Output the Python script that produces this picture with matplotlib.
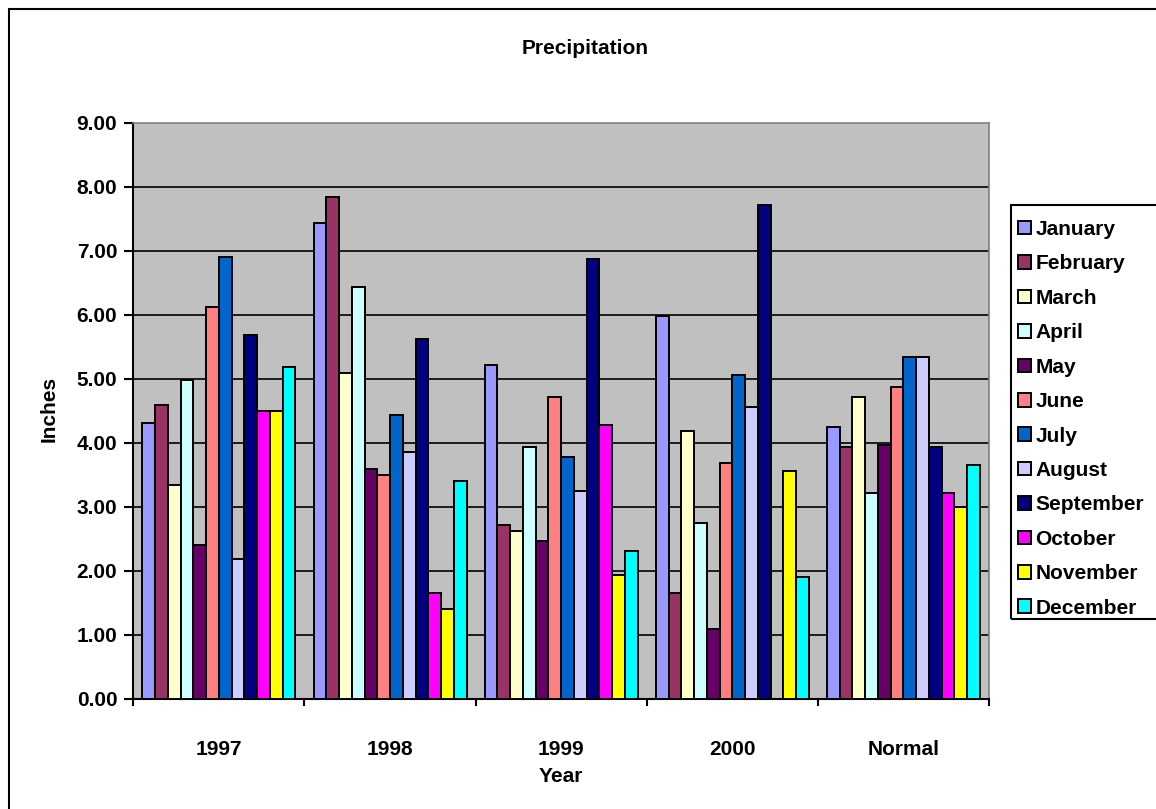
import numpy as np
import matplotlib
matplotlib.use("Agg")
import matplotlib.pyplot as plt
from matplotlib.patches import Rectangle

plt.rcParams['font.family'] = ['Liberation Sans', 'DejaVu Sans']
plt.rcParams['font.weight'] = 'bold'

# data
groups = ['1997', '1998', '1999', '2000', 'Normal']
months = ['January', 'February', 'March', 'April', 'May', 'June', 'July',
          'August', 'September', 'October', 'November', 'December']
y1997 = [4.31, 4.59, 3.34, 4.98, 2.40, 6.12, 6.90, 2.18, 5.69, 4.49, 4.49, 5.18]
y1998 = [7.44, 7.84, 5.09, 6.43, 3.59, 3.49, 4.43, 3.86, 5.62, 1.65, 1.40, 3.40]
y1999 = [5.21, 2.71, 2.62, 3.94, 2.46, 4.71, 3.78, 3.24, 6.87, 4.28, 1.93, 2.31]
y2000 = [5.99, 1.65, 4.18, 2.75, 1.09, 3.68, 5.06, 4.56, 7.72, 0.00, 3.56, 1.90]
normal = [4.24, 3.93, 4.71, 3.21, 3.96, 4.87, 5.34, 5.34, 3.93, 3.21, 2.99, 3.65]
colors = ['#9999FF', '#993366', '#FFFFCC', '#CCFFFF', '#660066', '#FF8080',
          '#0066CC', '#CCCCFF', '#000080', '#FF00FF', '#FFFF00', '#00FFFF']

vals = np.array([y1997, y1998, y1999, y2000, normal])  # rows = groups

W, H = 1156, 809
fig = plt.figure(figsize=(W / 100, H / 100), dpi=100)
fig.patch.set_facecolor('white')

# axes placed in pixel terms
l, r, t, b = 133.3, 989, 123, 698.7
ax = fig.add_axes([l / W, 1 - b / H, (r - l) / W, (b - t) / H])
ax.set_facecolor('#C0C0C0')

x = np.arange(len(groups))
bw = 0.0745
for i, m in enumerate(months):
    ax.bar(x + (i - 5.5) * bw, vals[:, i], width=bw, color=colors[i],
           edgecolor='black', linewidth=1.4, label=m, zorder=3)

ax.set_xlim(-0.5, 4.5)
ax.set_ylim(0, 9)
ax.set_yticks(np.arange(0, 10, 1))
ax.set_yticklabels(['%.2f' % v for v in np.arange(0, 10, 1)])
for v in range(1, 9):
    ax.axhline(v, color='black', linewidth=1.2, zorder=1)

ax.set_xticks(x)
ax.set_xticklabels(groups)
ax.set_xticks(np.arange(-0.5, 5, 1), minor=True)
ax.tick_params(axis='x', which='major', length=0, pad=30, labelsize=15)
ax.tick_params(axis='x', which='minor', length=5, width=1.5, direction='out')
ax.tick_params(axis='y', length=6.5, width=1.5, direction='out', pad=5, labelsize=15)

for s in ['left', 'bottom']:
    ax.spines[s].set_linewidth(1.5)
    ax.spines[s].set_color('black')
for s in ['top', 'right']:
    ax.spines[s].set_linewidth(1.2)
    ax.spines[s].set_color('#808080')

fig.text(585 / W, 1 - 49 / H, 'Precipitation', ha='center', va='center',
         fontsize=15, fontweight='bold')
fig.text(561 / W, 1 - 777 / H, 'Year', ha='center', va='center',
         fontsize=15, fontweight='bold')
fig.text(49 / W, 1 - 409 / H, 'Inches', ha='center', va='center',
         rotation=90, fontsize=15, fontweight='bold')

# legend
handles, labels = ax.get_legend_handles_labels()
leg = fig.legend(handles, labels, loc='upper left',
                 bbox_to_anchor=(1018 / W, 1 - 220 / H),
                 frameon=False, fontsize=15, borderpad=0, borderaxespad=0,
                 handlelength=0.63, handleheight=0.63, handletextpad=0.2,
                 labelspacing=0.74)
fig.add_artist(Rectangle((1011 / W, 1 - 619 / H), 160 / W, (619 - 204.7) / H,
                         transform=fig.transFigure, fill=False,
                         edgecolor='black', linewidth=1.5))

# outer chart border
fig.add_artist(Rectangle((9 / W, -0.1), 1.2, 1.1 - 9 / H,
                         transform=fig.transFigure, fill=False,
                         edgecolor='black', linewidth=1.5))

fig.savefig('out.png', dpi=100)
